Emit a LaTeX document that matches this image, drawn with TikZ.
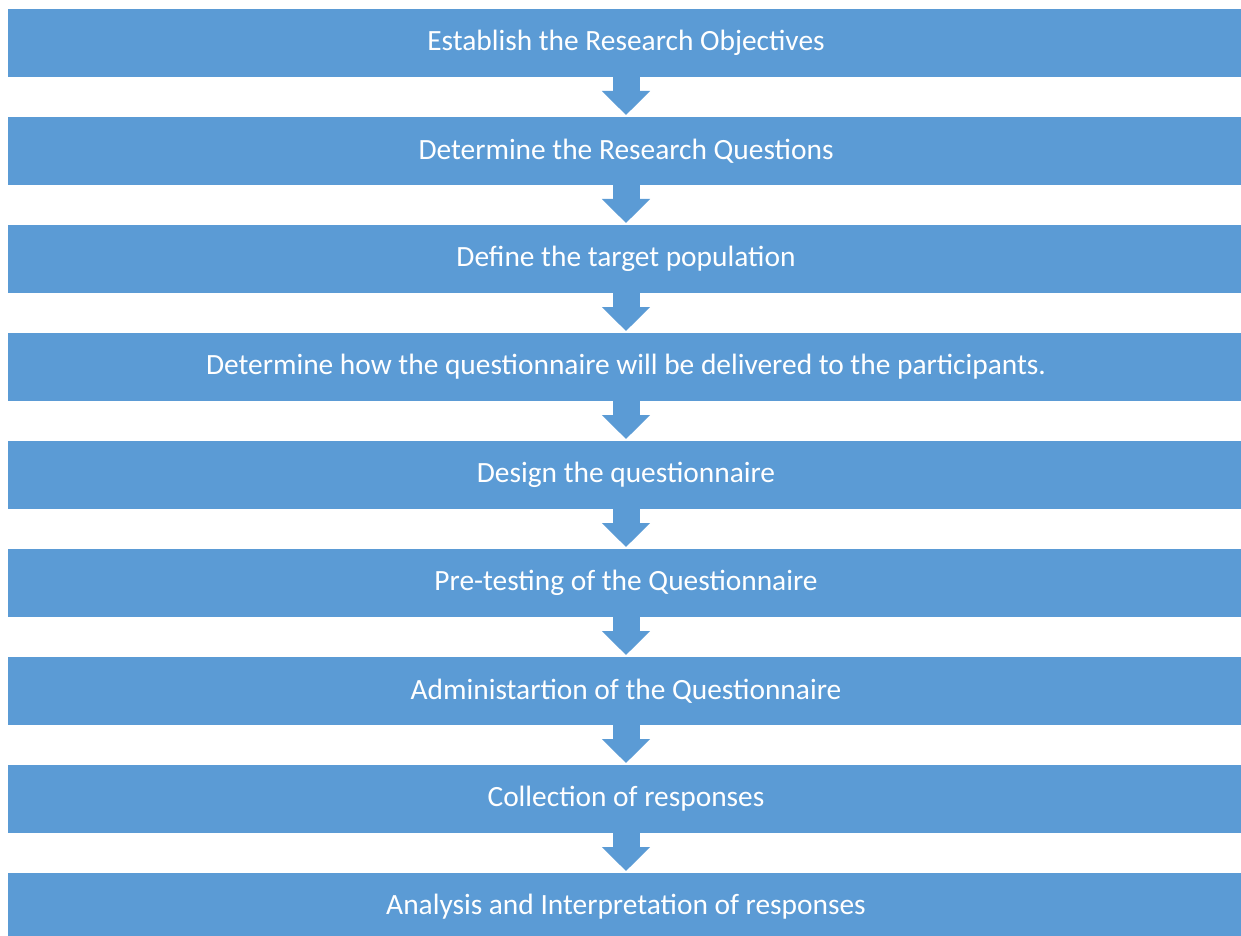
\documentclass[tikz,border=0pt]{standalone}
\usepackage{fontspec}
\setmainfont{Carlito}
\usetikzlibrary{
  positioning,
  arrows.meta}
\definecolor{stepblue}{HTML}{5B9BD5}

\begin{document}
\begin{tikzpicture}[
    x=0.5pt,
    y=-0.5pt,
    stage/.style={
      fill=stepblue,
      text=white,
      font=\fontsize{14.7}{17}\selectfont,
      minimum width=618pt,
      minimum height=34pt,
      inner sep=0pt,
      outer sep=0pt
    },
    flow/.style={
      stepblue,
      line width=13.5pt,
      shorten >=1pt,
      -{Triangle[width=23.5pt,length=12pt]}
    },
    node distance=20pt
  ]%
  \useasboundingbox (0,0) rectangle (1241,936);

  % Stages
  \node[stage] (s1) at (626,43) {Establish the Research Objectives};
  \node[stage, below=of s1] (s2) {Determine the Research Questions};
  \node[stage, below=of s2] (s3) {Define the target population};
  \node[stage, below=of s3] (s4) {Determine how the questionnaire will be delivered to the participants.};
  \node[stage, below=of s4] (s5) {Design the questionnaire};
  \node[stage, below=of s5] (s6) {Pre-testing of the Questionnaire};
  \node[stage, below=of s6] (s7) {Administartion of the Questionnaire};
  \node[stage, below=of s7] (s8) {Collection of responses};
  \node[stage, below=of s8] (s9) {Analysis and Interpretation of responses};

  % Arrows
  \draw[flow] (s1.south) -- (s2.north);
  \draw[flow] (s2.south) -- (s3.north);
  \draw[flow] (s3.south) -- (s4.north);
  \draw[flow] (s4.south) -- (s5.north);
  \draw[flow] (s5.south) -- (s6.north);
  \draw[flow] (s6.south) -- (s7.north);
  \draw[flow] (s7.south) -- (s8.north);
  \draw[flow] (s8.south) -- (s9.north);

\end{tikzpicture}
\end{document}
